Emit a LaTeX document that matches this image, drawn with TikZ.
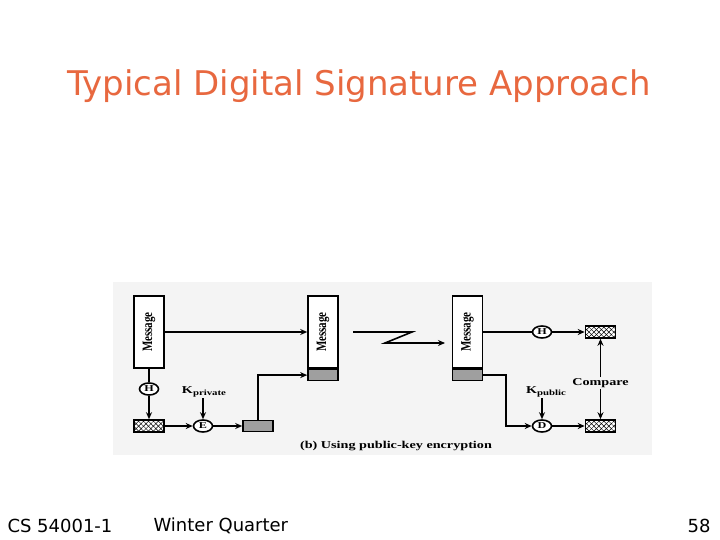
\documentclass[tikz,border=0pt]{standalone}
\usepackage{fontspec}
\setmainfont{Liberation Serif}
\newfontfamily\slidefont{DejaVu Sans}
\usepackage{xcolor}
\usetikzlibrary{arrows.meta,positioning,shapes.geometric,patterns.meta}
\definecolor{titleorange}{HTML}{E8683F}
\definecolor{panelgray}{HTML}{F4F4F4}
\tikzset{
  msgbox/.style={draw,fill=white,line width=1.6pt,minimum width=30pt,
                 minimum height=72pt,inner sep=0pt,
                 font=\bfseries\fontsize{11}{11}\selectfont},
  sigbox/.style={draw,fill=gray!75,line width=1.6pt,minimum width=30pt,
                 minimum height=11pt,inner sep=0pt},
  hashbox/.style={draw,fill=white,line width=1.6pt,minimum width=30pt,
                  minimum height=12pt,inner sep=0pt,
                  postaction={pattern={Lines[angle=45,distance=3.5pt,line width=0.5pt]}},
                  postaction={pattern={Lines[angle=-45,distance=3.5pt,line width=0.5pt]}}},
  op/.style={draw,ellipse,fill=white,line width=1.6pt,minimum width=19pt,
             minimum height=12pt,inner sep=0pt,
             font=\bfseries\fontsize{9}{9}\selectfont},
  lbl/.style={font=\bfseries\fontsize{10.5}{10.5}\selectfont,inner sep=1pt},
  arr/.style={-{Stealth[length=7pt,width=6pt]},line width=1.6pt},
  ln/.style={line width=1.6pt},
  footer/.style={font=\slidefont\fontsize{18}{18}\selectfont},
}
% bold figure text, stretched sideways as in the scanned figure
\newcommand{\wide}[1]{\scalebox{1.35}[1]{#1}}
\newcommand{\keylbl}[1]{\wide{K\raisebox{-2pt}{\fontsize{8}{8}\selectfont #1}}}
\newcommand{\msgtext}{\rotatebox{90}{\scalebox{1}[1.3]{Message}}}

\begin{document}
\begin{tikzpicture}[x=1pt,y=-1pt]
\useasboundingbox[fill=white] (0,0) rectangle (720,540);

% title and footer
\node[text=titleorange,font=\slidefont\fontsize{34}{34}\selectfont] (title) at (359,86) {Typical Digital Signature Approach};
\node[footer,anchor=west] (course) at (4,526) {CS 54001-1};
\node[footer,anchor=west] (term) at (150,526) {Winter Quarter};
\node[footer,anchor=east] (page) at (714,526) {58};

% figure panel
\fill[panelgray] (113,282) rectangle (652,455);

% sender side
\node[msgbox] (msgA) at (149,332) {\msgtext};
\node[op] (hA) at (149,389) {\wide{H}};
\node[hashbox] (hashA) at (149,426) {};
\node[op] (encE) at (203,426) {\wide{E}};
\node[lbl] (kpriv) at (204,392) {\keylbl{private}};
\node[sigbox] (sigA) at (258,426) {};

% transmitted message
\node[msgbox] (msgB) at (323,332) {\msgtext};
\node[sigbox,anchor=north] (sigB) at (msgB.south) {};

% receiver side
\node[msgbox] (msgC) at (467.5,332) {\msgtext};
\node[sigbox,anchor=north] (sigC) at (msgC.south) {};
\node[op] (hC) at (542,332) {\wide{H}};
\node[hashbox] (hashTop) at (600.5,332) {};
\node[op] (decD) at (542,426) {\wide{D}};
\node[lbl] (kpub) at (546,392) {\keylbl{public}};
\node[hashbox] (hashBot) at (600.5,426) {};
\node[lbl] (compare) at (600.5,383) {\wide{Compare}};

\node[lbl] (caption) at (396,446) {\wide{(b) Using public-key encryption}};

% connectors
\draw[arr] (msgA.east) -- (msgB.west);
\draw[ln] (msgA.south) -- (hA.north);
\draw[arr] (hA.south) -- (hashA.north);
\draw[arr] (hashA.east) -- (encE.west);
\draw[arr] (kpriv.south -| encE.north) -- (encE.north);
\draw[arr] (encE.east) -- (sigA.west);
\draw[arr] (sigA.north) |- (sigB.west);

% transmission
\coordinate (zStart) at (353,332);
\coordinate (zEnd) at (445,343);
\draw[arr] (zStart) -- (412,332) -- (385,343) -- (zEnd);

\draw[ln] (msgC.east) -- (hC.west);
\draw[arr] (hC.east) -- (hashTop.west);
\coordinate (bendC) at (506,373);
\draw[arr] (sigC.east) -- (bendC |- sigC.east) |- (decD.west);
\draw[arr] (kpub.south -| decD.north) -- (decD.north);
\draw[arr] (decD.east) -- (hashBot.west);
\draw[arr] (compare.north) -- (hashTop.south);
\draw[arr] (compare.south) -- (hashBot.north);

\end{tikzpicture}
\end{document}
